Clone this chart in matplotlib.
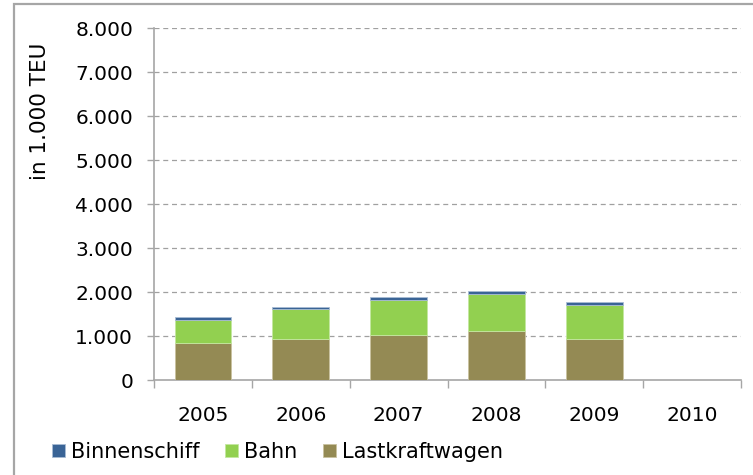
import numpy as np
import matplotlib
matplotlib.use("Agg")
import matplotlib.pyplot as plt
from matplotlib.patches import Rectangle

years = ["2005", "2006", "2007", "2008", "2009", "2010"]
lkw = [848, 932, 1023, 1106, 932, np.nan]
bahn = [522, 674, 802, 856, 773, np.nan]
binnen = [55, 53, 61, 61, 60, np.nan]
yticks = [0, 1000, 2000, 3000, 4000, 5000, 6000, 7000, 8000]
ytick_labels = ["0", "1.000", "2.000", "3.000", "4.000", "5.000", "6.000", "7.000", "8.000"]

c_binnen = "#3a6496"
c_bahn = "#92d050"
c_lkw = "#948a54"
gray = "#a6a6a6"

plt.rcParams['font.family'] = ['DejaVu Sans']
fig = plt.figure(figsize=(7.53, 4.75), dpi=100)
ax = fig.add_axes([154/753, 1-380/475, 587/753, 352/475])

x = np.arange(len(years))
lkw_a = np.array(lkw, dtype=float)
bahn_a = np.array(bahn, dtype=float)
binnen_a = np.array(binnen, dtype=float)
w = 0.58
b1 = ax.bar(x, lkw_a, w, color=c_lkw, edgecolor="#c9c2a0", linewidth=0.6, label="Lastkraftwagen", zorder=3)
b2 = ax.bar(x, bahn_a, w, bottom=lkw_a, color=c_bahn, edgecolor="#c4e8a0", linewidth=0.6, label="Bahn", zorder=3)
b3 = ax.bar(x, binnen_a, w, bottom=lkw_a + bahn_a, color=c_binnen, edgecolor="#a8bcd4", linewidth=0.6, label="Binnenschiff", zorder=3)

ax.set_xlim(-0.5, len(years) - 0.5)
ax.set_ylim(0, 8000)
ax.set_yticks(yticks)
ax.set_yticklabels(ytick_labels, fontsize=14.5)
ax.set_xticks(x)
ax.set_xticklabels(years, fontsize=14.5)
ax.set_xticks(np.arange(-0.5, len(years)), minor=True)
ax.tick_params(axis='x', which='major', length=0, pad=19)
ax.tick_params(axis='x', which='minor', length=6, color=gray, width=1)
ax.tick_params(axis='y', length=5, color=gray, width=1, pad=10)

for s in ["top", "right"]:
    ax.spines[s].set_visible(False)
for s in ["left", "bottom"]:
    ax.spines[s].set_color(gray)
    ax.spines[s].set_linewidth(1.2)

for v in yticks[1:]:
    ax.axhline(v, color="#a0a0a0", linestyle=(0, (4, 3)), linewidth=0.9, zorder=1)

fig.text(40/753, 1-111/475, "in 1.000 TEU", rotation=90, ha="center", va="center", fontsize=15.5)

handles = [b3, b2, b1]
leg = fig.legend(handles, [h.get_label() for h in handles], loc="center left",
                 bbox_to_anchor=(52/753, 1-452/475), ncol=3, frameon=False,
                 fontsize=15, handlelength=0.6, handleheight=0.6,
                 handletextpad=0.3, columnspacing=1.25, borderpad=0, borderaxespad=0)

fig.patches.append(Rectangle((14/753, -0.1), 1.2, 1.1 - 4/475, transform=fig.transFigure,
                             fill=False, edgecolor="#a6a6a6", linewidth=1.6))

fig.savefig("out.png", dpi=100)
